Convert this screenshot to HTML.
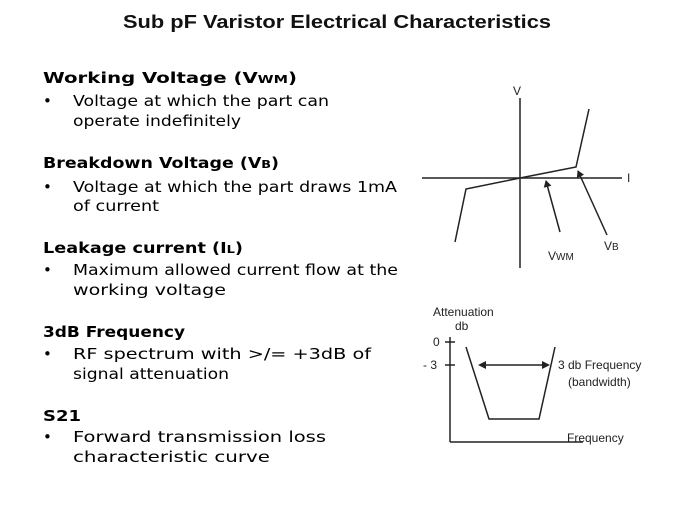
<!DOCTYPE html>
<html><head><meta charset="utf-8"><style>
html,body{margin:0;padding:0;background:#fff;}
svg{display:block;}
.t{font-family:"DejaVu Sans","Liberation Sans",sans-serif;font-size:15px;fill:#000;}
.b{font-weight:bold;}
.a{font-family:"Liberation Sans",Arial,sans-serif;font-size:12px;fill:#222;}
</style></head><body>
<svg width="675" height="506" viewBox="0 0 675 506" xmlns="http://www.w3.org/2000/svg">
<text x="337" y="28" text-anchor="middle" font-family="'Liberation Sans',Arial,sans-serif" font-weight="bold" font-size="18" fill="#111" textLength="428" lengthAdjust="spacingAndGlyphs">Sub pF Varistor Electrical Characteristics</text>

<g class="t">
<text x="43" y="83" class="b" textLength="254" lengthAdjust="spacingAndGlyphs">Working Voltage (V<tspan font-size="11">WM</tspan>)</text>
<text x="43" y="106">•</text>
<text x="73" y="106" textLength="256" lengthAdjust="spacingAndGlyphs">Voltage at which the part can</text>
<text x="73" y="126" textLength="168" lengthAdjust="spacingAndGlyphs">operate indefinitely</text>

<text x="43" y="168" class="b" textLength="236" lengthAdjust="spacingAndGlyphs">Breakdown Voltage (V<tspan font-size="11">B</tspan>)</text>
<text x="43" y="192">•</text>
<text x="73" y="192" textLength="324" lengthAdjust="spacingAndGlyphs">Voltage at which the part draws 1mA</text>
<text x="73" y="211" textLength="86" lengthAdjust="spacingAndGlyphs">of current</text>

<text x="43" y="253" class="b" textLength="200" lengthAdjust="spacingAndGlyphs">Leakage current (I<tspan font-size="11">L</tspan>)</text>
<text x="43" y="275">•</text>
<text x="73" y="275" textLength="325" lengthAdjust="spacingAndGlyphs">Maximum allowed current flow at the</text>
<text x="73" y="295" textLength="153" lengthAdjust="spacingAndGlyphs">working voltage</text>

<text x="43" y="337" class="b" textLength="142" lengthAdjust="spacingAndGlyphs">3dB Frequency</text>
<text x="43" y="359">•</text>
<text x="73" y="359" textLength="298" lengthAdjust="spacingAndGlyphs">RF spectrum with &gt;/= +3dB of</text>
<text x="73" y="379" textLength="156" lengthAdjust="spacingAndGlyphs">signal attenuation</text>

<text x="43" y="421" class="b" textLength="38" lengthAdjust="spacingAndGlyphs">S21</text>
<text x="43" y="442">•</text>
<text x="73" y="442" textLength="253" lengthAdjust="spacingAndGlyphs">Forward transmission loss</text>
<text x="73" y="462" textLength="197" lengthAdjust="spacingAndGlyphs">characteristic curve</text>
</g>

<defs>
<marker id="ar" markerWidth="8" markerHeight="8" refX="6" refY="4" orient="auto" markerUnits="userSpaceOnUse">
<path d="M0,0 L7,4 L0,8 z" fill="#222"/></marker>
</defs>

<g stroke="#222" stroke-width="1.5" fill="none">
<line x1="520" y1="98" x2="520" y2="268"/>
<line x1="422" y1="178" x2="622" y2="178"/>
<polyline points="455,242 466,189 520,178 576,167 589,109"/>
<line x1="560" y1="232" x2="546" y2="181" marker-end="url(#ar)"/>
<line x1="607" y1="235" x2="578" y2="171" marker-end="url(#ar)"/>
</g>
<text class="a" x="513" y="95" font-size="13">V</text>
<text class="a" x="627" y="182" font-size="13">I</text>
<text class="a" x="548" y="260" font-size="17">V<tspan font-size="10">WM</tspan></text>
<text class="a" x="604" y="250" font-size="17">V<tspan font-size="10">B</tspan></text>

<g stroke="#222" stroke-width="1.5" fill="none">
<line x1="450" y1="337" x2="450" y2="442"/>
<line x1="450" y1="442" x2="583" y2="442"/>
<line x1="445" y1="342" x2="455" y2="342"/>
<line x1="445" y1="365" x2="455" y2="365"/>
<polyline points="466,347 489,419 539,419 555,347"/>
<line x1="482" y1="365" x2="546" y2="365"/>
</g>
<path d="M478,365 L486,361 L486,369 z M550,365 L542,361 L542,369 z" fill="#222"/>
<text class="a" x="433" y="316">Attenuation</text>
<text class="a" x="455" y="330">db</text>
<text class="a" x="433" y="346">0</text>
<text class="a" x="423" y="369">- 3</text>
<text class="a" x="558" y="369">3 db Frequency</text>
<text class="a" x="568" y="386">(bandwidth)</text>
<text class="a" x="567" y="442">Frequency</text>
</svg>
</body></html>
